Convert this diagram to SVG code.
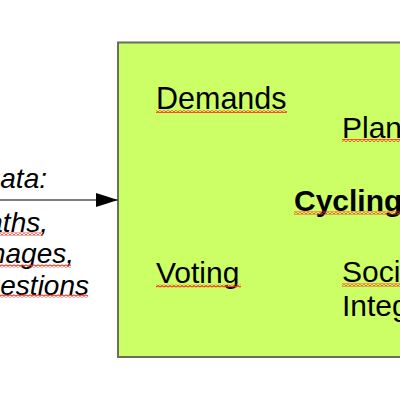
<svg xmlns="http://www.w3.org/2000/svg" width="400" height="400" viewBox="0 0 400 400">
<defs>
<style>
.t{font-family:"Liberation Sans",Arial,sans-serif;font-size:30px;fill:#000}
.b{font-weight:bold;font-size:30px}
.i{font-style:italic;font-size:28px}
.w{fill:url(#wave)}
</style>
<pattern id="wave" patternUnits="userSpaceOnUse" width="4" height="3">
<path d="M0 2.4 L2 0.6 L4 2.4" fill="none" stroke="#ff2a1a" stroke-width="1.2"/>
</pattern>
<marker id="ah" markerWidth="22" markerHeight="14" refX="22" refY="7" orient="auto" markerUnits="userSpaceOnUse">
<path d="M0 0 L22 7 L0 14 Z" fill="#000"/>
</marker>
</defs>
<rect width="400" height="400" fill="#fff"/>
<g id="box">
<rect x="118" y="42.5" width="300" height="314.5" fill="#ccff66" stroke="#6a6e5e" stroke-width="2"/>
</g>
<g id="connectors">
<line x1="-5" y1="200" x2="118" y2="200" stroke="#555" stroke-width="1.5" marker-end="url(#ah)"/>
</g>
<g id="input">
<text class="t i" x="47" y="188" text-anchor="end">Data:</text>
<text class="t i" x="48" y="232" text-anchor="end">Paths,</text>
<text class="t i" x="74" y="263" text-anchor="end">Images,</text>
<text class="t i" x="89" y="295" text-anchor="end">Questions</text>
<rect class="w" x="0" y="232.5" width="43" height="3"/>
<rect class="w" x="0" y="264.5" width="71" height="3"/>
<rect class="w" x="0" y="294.5" width="88" height="3"/>
</g>
<g id="demands">
<text class="t" x="156" y="109" style="font-size:30.5px">Demands</text>
<rect class="w" x="156" y="110" width="131" height="3"/>
</g>
<g id="planning">
<text class="t" x="342" y="138">Planning</text>
<rect class="w" x="342" y="139" width="60" height="3"/>
</g>
<g id="cycling">
<text class="t b" x="294" y="211">Cycling</text>
<rect class="w" x="294" y="211.5" width="108" height="3"/>
</g>
<g id="voting">
<text class="t" x="156" y="283">Voting</text>
<rect class="w" x="156" y="284.5" width="85" height="3"/>
</g>
<g id="social">
<text class="t" x="342" y="282">Social</text>
<text class="t" x="342" y="316">Integration</text>
<rect class="w" x="342" y="283.5" width="60" height="3"/>
</g>
</svg>
